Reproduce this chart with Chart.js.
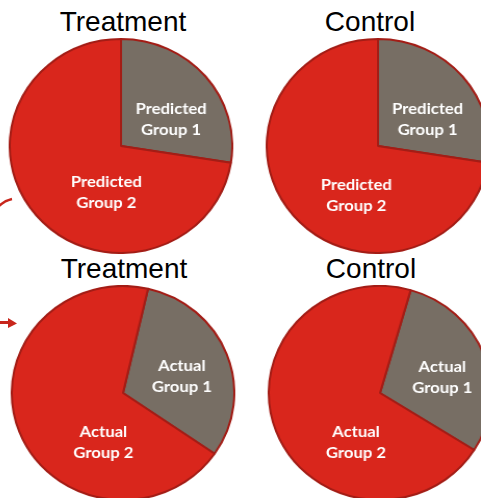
<!DOCTYPE html>
<html>
<head>
<meta charset="utf-8">
<script src="https://cdn.jsdelivr.net/npm/chart.js@4"></script>
<style>
  body { margin: 0; background: #fff; }
  #wrap { position: relative; width: 481px; height: 498px; overflow: hidden; background: #fff; }
  .pie { position: absolute; width: 216px; height: 216px; transform: scaleX(1.04); transform-origin: 50% 50%; }
  .title { position: absolute; width: 200px; text-align: center; font: 28px "Liberation Sans", Arial, sans-serif; line-height: 28px; color: #000; }
</style>
</head>
<body>
<div id="wrap">
  <svg width="30" height="340" style="position:absolute;left:0;top:0">
    <path d="M -4 209 Q 3 201 12 199" stroke="#c8261c" stroke-width="2.5" fill="none"/>
    <line x1="0" y1="322.5" x2="10" y2="322.5" stroke="#c8261c" stroke-width="3"/>
    <polygon points="8,318 17,323.5 8,328" fill="#c8261c"/>
  </svg>
  <div class="title" style="left:23px;top:8px">Treatment</div>
  <div class="title" style="left:270px;top:8px">Control</div>
  <div class="title" style="left:24px;top:255px">Treatment</div>
  <div class="title" style="left:271px;top:255px">Control</div>
  <canvas id="c1" class="pie" width="216" height="216" style="left:13px;top:38px"></canvas>
  <canvas id="c2" class="pie" width="216" height="216" style="left:270px;top:38px"></canvas>
  <canvas id="c3" class="pie" width="216" height="216" style="left:15px;top:285px"></canvas>
  <canvas id="c4" class="pie" width="216" height="216" style="left:272px;top:285px"></canvas>
</div>
<script>
const categories = ['Group 1', 'Group 2'];
const predictedTreatment = [27.5, 72.5];
const predictedControl = [27.5, 72.5];
const actualTreatment = [31, 69];
const actualControl = [29.5, 70.5];
const rotations = [0, 0, 13, 16];

const colors = ['#776e64', '#d9261c'];
const edge = '#a31d16';

// where the slice labels sit: angle from top (deg, clockwise) and fraction of radius
const labelSpots = [
  [[61, 0.515], [197, 0.45]],
  [[61, 0.51], [203, 0.50]],
  [[74, 0.55], [201, 0.49]],
  [[75, 0.58], [205, 0.51]]
];

const sliceLabels = {
  id: 'sliceLabels',
  afterDatasetsDraw(chart, args, opts) {
    const ctx = chart.ctx;
    const arc = chart.getDatasetMeta(0).data[0];
    const r = arc.outerRadius;
    ctx.save();
    ctx.fillStyle = '#fff';
    ctx.font = 'bold 16px Lato, "Open Sans", sans-serif';
    ctx.textAlign = 'center';
    ctx.textBaseline = 'middle';
    categories.forEach((cat, i) => {
      const [deg, frac] = opts.spots[i];
      const a = deg * Math.PI / 180;
      const x = arc.x + Math.sin(a) * r * frac;
      const y = arc.y - Math.cos(a) * r * frac;
      ctx.fillText(opts.prefix, x, y - 10.5);
      ctx.fillText(cat, x, y + 10.5);
    });
    ctx.restore();
  }
};

function makePie(id, values, rotation, prefix, spots) {
  new Chart(document.getElementById(id), {
    type: 'pie',
    data: {
      labels: categories,
      datasets: [{
        data: values,
        backgroundColor: colors,
        borderColor: edge,
        borderWidth: 2
      }]
    },
    options: {
      responsive: false,
      animation: false,
      rotation: rotation,
      layout: { padding: 0 },
      plugins: {
        legend: { display: false },
        tooltip: { enabled: false },
        sliceLabels: { prefix: prefix, spots: spots }
      }
    },
    plugins: [sliceLabels]
  });
}

makePie('c1', predictedTreatment, rotations[0], 'Predicted', labelSpots[0]);
makePie('c2', predictedControl, rotations[1], 'Predicted', labelSpots[1]);
makePie('c3', actualTreatment, rotations[2], 'Actual', labelSpots[2]);
makePie('c4', actualControl, rotations[3], 'Actual', labelSpots[3]);
</script>
</body>
</html>
